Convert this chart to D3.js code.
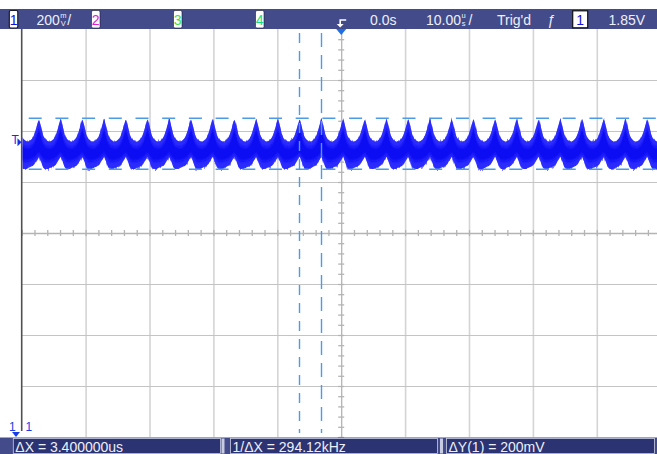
<!DOCTYPE html>
<html>
<head>
<meta charset="utf-8">
<script src="https://cdn.jsdelivr.net/npm/d3@7"></script>
<style>
  html, body { margin: 0; padding: 0; background: #ffffff; }
  svg { display: block; font-family: "Liberation Sans", Arial, sans-serif; }
</style>
</head>
<body>
<svg id="scope" width="657" height="454"></svg>
<script>
// ---- Acquisition settings (channel 1) ----
const timePerDivUs = 10;          // 10.00 us/div
const voltsPerDiv = 0.2;          // 200 mV/div
const timeDivs = [-40, -30, -20, -10, 0, 10, 20, 30, 40];
const voltDivs = [0.89, 1.09, 1.29, 1.49, 1.69, 1.89, 2.09];
const triggerLevelV = 1.85;

// ---- Cursors ----
const cursorXUs = [-6.6, -3.2];   // ΔX = 3.4 us
const cursorYV = [1.94, 1.74];    // ΔY = 200 mV

// ---- Ripple waveform (ch1) ----
// one ripple cycle is 3.4 us; first visible crest time
const periodUs = 3.4;
const firstPeakUs = -50.7;
// crest voltage of each cycle, left to right
const peakV = [1.930, 1.932, 1.936, 1.934, 1.938, 1.933, 1.935, 1.940, 1.934, 1.936,
               1.933, 1.937, 1.935, 1.934, 1.938, 1.936, 1.933, 1.937, 1.935, 1.939,
               1.934, 1.936, 1.935, 1.938, 1.933, 1.937, 1.936, 1.934, 1.939, 1.935, 1.934];
// envelope shape across one cycle (phase 0 = crest)
const phase    = [-0.5, -0.4, -0.3, -0.2, -0.12, -0.06, 0, 0.06, 0.12, 0.2, 0.3, 0.4, 0.5];
const upperV   = [1.849, 1.853, 1.862, 1.880, 1.903, 1.921, null, 1.919, 1.899, 1.872, 1.858, 1.851, 1.849];
const coreTopV = [1.826, 1.829, 1.836, 1.850, 1.868, 1.885, 1.896, 1.882, 1.862, 1.843, 1.832, 1.828, 1.826];
const coreBotV = [1.772, 1.774, 1.778, 1.784, 1.791, 1.797, 1.800, 1.794, 1.786, 1.777, 1.771, 1.771, 1.772];
const lowerV   = [1.745, 1.749, 1.753, 1.761, 1.772, 1.780, 1.788, 1.776, 1.764, 1.747, 1.741, 1.741, 1.745];

// ---- Status text ----
const scaleText = "200";
const delayText = "0.0s";
const timebaseText = "10.00";
const trigText = "Trig'd";
const trigLevelText = "1.85V";
const measureText = ["ΔX = 3.400000us", "1/ΔX = 294.12kHz", "ΔY(1) = 200mV"];

// ---- Layout ----
const W = 657, H = 454;
const plot = { left: 21.7, right: 660.7, top: 29, bottom: 437 };

const svg = d3.select("#scope");
const x = d3.scaleLinear().domain([-5 * timePerDivUs, 5 * timePerDivUs]).range([plot.left, plot.right]);
const y = d3.scaleLinear().domain([1.49 - 4 * voltsPerDiv, 1.49 + 4 * voltsPerDiv]).range([plot.bottom, plot.top]);

const defs = svg.append("defs");
defs.append("clipPath").attr("id", "plotClip")
  .append("rect").attr("x", plot.left + 1).attr("y", plot.top)
  .attr("width", W - plot.left).attr("height", plot.bottom - plot.top);

// vertical streak texture for the ripple envelope
const f = defs.append("filter").attr("id", "streaks")
  .attr("x", "-2%").attr("y", "-40%").attr("width", "104%").attr("height", "180%");
f.append("feTurbulence").attr("type", "fractalNoise").attr("baseFrequency", "0.55 0.015")
  .attr("numOctaves", 2).attr("seed", 3).attr("result", "noise");
f.append("feColorMatrix").attr("in", "noise").attr("type", "matrix")
  .attr("values", "0 0 0 0 0.5  0 1 0 0 0  0 0 0 0 0  0 0 0 0 1").attr("result", "disp");
f.append("feDisplacementMap").attr("in", "SourceGraphic").attr("in2", "disp")
  .attr("scale", 8).attr("xChannelSelector", "R").attr("yChannelSelector", "G");

const soft = defs.append("filter").attr("id", "soft");
soft.append("feGaussianBlur").attr("stdDeviation", "0.3 1.6");

// ---- Grid ----
const grid = svg.append("g");
grid.append("g")
  .attr("transform", `translate(0,${plot.top})`)
  .call(d3.axisTop(x).tickValues(timeDivs.filter(d => d !== 0)).tickSize(-(plot.bottom - plot.top)).tickFormat(""))
  .call(g => g.select(".domain").remove())
  .call(g => g.selectAll("line").attr("stroke", "#d4d4d4").attr("stroke-width", 1.6));
grid.append("g")
  .attr("transform", `translate(${plot.left},0)`)
  .call(d3.axisLeft(y).tickValues(voltDivs.filter(d => d !== 1.49)).tickSize(-(W - plot.left)).tickFormat(""))
  .call(g => g.select(".domain").remove())
  .call(g => g.selectAll("line").attr("stroke", "#c4c4c4").attr("stroke-width", 1));

// centre axes with minor ticks
const minorT = d3.range(-50, 50.01, 2);
const minorV = d3.range(0, 41).map(i => 0.69 + i * 0.04);
grid.append("g")
  .attr("transform", `translate(0,${y(1.49)})`)
  .call(d3.axisBottom(x).tickValues(minorT).tickSize(3).tickSizeOuter(0).tickFormat(""))
  .call(g => g.select(".domain").attr("stroke", "#b4b4b4").attr("stroke-width", 1.3))
  .call(g => g.selectAll(".tick line").attr("stroke", "#b4b4b4").attr("stroke-width", 1.3).attr("y1", -3));
grid.append("g")
  .attr("transform", `translate(${x(0)},0)`)
  .call(d3.axisLeft(y).tickValues(minorV).tickSize(3).tickSizeOuter(0).tickFormat(""))
  .call(g => g.select(".domain").attr("stroke", "#b4b4b4").attr("stroke-width", 1.3))
  .call(g => g.selectAll(".tick line").attr("stroke", "#b4b4b4").attr("stroke-width", 1.3).attr("x1", 3));

// left border
svg.append("line").attr("x1", plot.left).attr("x2", plot.left)
  .attr("y1", plot.top).attr("y2", plot.bottom - 6)
  .attr("stroke", "#505050").attr("stroke-width", 1.6);

// ---- Waveform ----
const samples = [];
peakV.forEach((pv, k) => {
  const t0 = firstPeakUs + k * periodUs;
  phase.forEach((p, i) => {
    if (k > 0 && i === 0) return;
    samples.push({
      t: t0 + p * periodUs,
      up: upperV[i] === null ? pv : upperV[i],
      ct: coreTopV[i], cb: coreBotV[i], lo: lowerV[i]
    });
  });
});

const wave = svg.append("g").attr("clip-path", "url(#plotClip)");
const outer = d3.area().x(d => x(d.t)).y0(d => y(d.lo)).y1(d => y(d.up)).curve(d3.curveMonotoneX);
const core = d3.area().x(d => x(d.t)).y0(d => y(d.cb)).y1(d => y(d.ct)).curve(d3.curveMonotoneX);
wave.append("path").datum(samples).attr("d", outer)
  .attr("fill", "#5a5aff").attr("opacity", 0.8).attr("filter", "url(#streaks)");
wave.append("path").datum(samples).attr("d", outer)
  .attr("fill", "#2222ff").attr("opacity", 0.9);
wave.append("path").datum(samples).attr("d", core).attr("fill", "#1010f4").attr("filter", "url(#soft)");

// ---- Cursors ----
const cursorColor = "#4b9be8";
svg.selectAll("line.cx").data(cursorXUs).join("line").attr("class", "cx")
  .attr("x1", d => Math.round(x(d)) + 0.5).attr("x2", d => Math.round(x(d)) + 0.5)
  .attr("y1", plot.top + 4).attr("y2", plot.bottom - 4)
  .attr("stroke", cursorColor).attr("stroke-width", 1.4)
  .attr("stroke-dasharray", (d, i) => i === 0 ? "10 8" : "14 8");
svg.selectAll("line.cy").data(cursorYV).join("line").attr("class", "cy")
  .attr("x1", plot.left + 7).attr("x2", W)
  .attr("y1", d => y(d)).attr("y2", d => y(d))
  .attr("stroke", cursorColor).attr("stroke-width", 1.4)
  .attr("stroke-dasharray", "13 13.7");

// trigger level marker
const ty = y(triggerLevelV);
svg.append("text").attr("x", 11.5).attr("y", ty + 3).attr("font-size", 12)
  .attr("fill", "#1a2ee6").text("T");
svg.append("path").attr("d", `M17.5,${ty - 3} L21.5,${ty + 1} L17.5,${ty + 5} Z`).attr("fill", "#1a2ee6");

// ground marker / cursor source
svg.append("text").attr("x", 9).attr("y", 431).attr("font-size", 12).attr("fill", "#1a3ee6").text("1");
svg.append("text").attr("x", 25.5).attr("y", 431).attr("font-size", 12).attr("fill", "#1a3ee6").text("1");
svg.append("path").attr("d", "M12,432 L20,432 L16,437 Z").attr("fill", "#1a3ee6");

// ---- Status bar (top) ----
const barFill = "#434b8b";
svg.append("rect").attr("x", 0).attr("y", 9).attr("width", W).attr("height", 20).attr("fill", barFill);

function chanBox(xl, label, color, bold) {
  svg.append("rect").attr("x", xl).attr("y", 10.5).attr("width", 8.5).attr("height", 17.5)
    .attr("rx", 1.5).attr("fill", "#ffffff").attr("stroke", "#1a1a2a").attr("stroke-width", bold ? 1.2 : 0.6);
  svg.append("text").attr("x", xl + 4.25).attr("y", 24.5).attr("text-anchor", "middle")
    .attr("font-size", 14).attr("fill", color).text(label);
}
chanBox(9.3, "1", "#1212d8", true);
chanBox(91.5, "2", "#e020d8", false);
chanBox(173.5, "3", "#3ee03e", false);
chanBox(255.5, "4", "#12e080", false);

const white = "#eef0f8";
function unitText(xl, num, u1, u2) {
  const t = svg.append("text").attr("x", xl).attr("y", 24.5).attr("font-size", 14).attr("fill", white).text(num);
  const w = t.node().getComputedTextLength();
  svg.append("text").attr("x", xl + w + 0.5).attr("y", 18).attr("font-size", 7.5).attr("fill", white).text(u1);
  svg.append("text").attr("x", xl + w + 0.8).attr("y", 25.5).attr("font-size", 7.5).attr("fill", white).text(u2);
  svg.append("text").attr("x", xl + w + 7.5).attr("y", 24.5).attr("font-size", 14).attr("fill", white).text("/");
}
unitText(36.5, scaleText, "m", "V");
unitText(426, timebaseText, "u", "s");

svg.append("text").attr("x", 370).attr("y", 24.5).attr("font-size", 14).attr("fill", white).text(delayText);
svg.append("text").attr("x", 497).attr("y", 24.5).attr("font-size", 14).attr("fill", white).text(trigText);
svg.append("text").attr("x", 547).attr("y", 24.5).attr("font-size", 14).attr("font-style", "italic").attr("fill", white).text("ƒ");
svg.append("rect").attr("x", 572.7).attr("y", 10.8).attr("width", 15).attr("height", 17)
  .attr("fill", "#ffffff").attr("stroke", "#111").attr("stroke-width", 1.2);
svg.append("text").attr("x", 580.2).attr("y", 24.5).attr("text-anchor", "middle")
  .attr("font-size", 14).attr("fill", "#1212d8").text("1");
svg.append("text").attr("x", 608.5).attr("y", 24.5).attr("font-size", 14).attr("fill", white).text(trigLevelText);

// trigger time marker
const tx = x(0);
svg.append("path").attr("d", `M${tx + 5},20 H${tx - 1} V25`).attr("fill", "none")
  .attr("stroke", "#ffffff").attr("stroke-width", 1.6);
svg.append("path").attr("d", `M${tx - 4.5},24 H${tx + 2.5} L${tx - 1},27.5 Z`).attr("fill", "#ffffff");
svg.append("path").attr("d", `M${tx - 5},29 H${tx + 5} L${tx},35 Z`).attr("fill", "#1e6ee6");

// ---- Measurement bar (bottom) ----
svg.append("rect").attr("x", 0).attr("y", 437.5).attr("width", W).attr("height", 16.5).attr("fill", barFill);
const boxes = [[12.8, 220], [230, 437], [446, 654]];
boxes.forEach(([a, b], i) => {
  svg.append("rect").attr("x", a + 0.5).attr("y", 438.5).attr("width", b - a).attr("height", 15)
    .attr("fill", "#2c3372").attr("stroke", "#c8cce0").attr("stroke-width", 0.8);
  svg.append("text").attr("x", a + 2.5).attr("y", 451.5).attr("font-size", 14).attr("fill", white).text(measureText[i]);
});
[221.5, 440].forEach(sx => {
  svg.append("rect").attr("x", sx).attr("y", 438.5).attr("width", 3).attr("height", 15).attr("fill", "#c8cce0");
});
</script>
</body>
</html>
